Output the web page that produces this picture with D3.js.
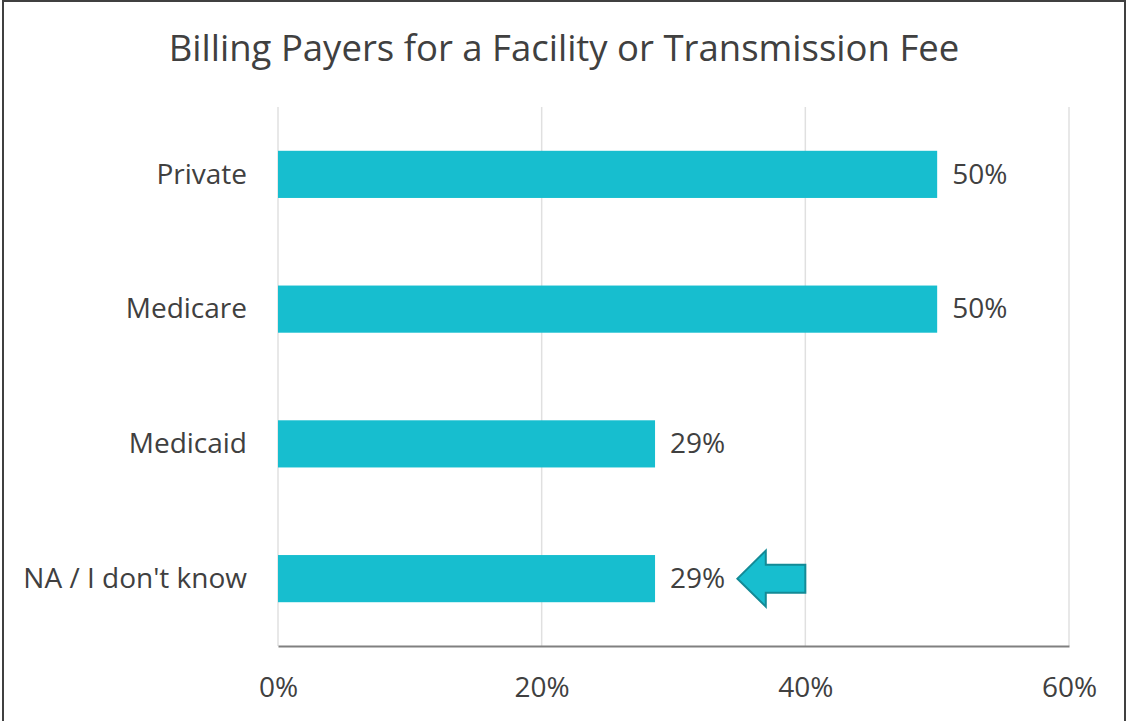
<!DOCTYPE html>
<html>
<head>
<meta charset="utf-8">
<script src="https://cdn.jsdelivr.net/npm/d3@7"></script>
<style>
  body { margin: 0; background: #fff; }
  text { font-family: "Open Sans", sans-serif; fill: #404040; }
</style>
</head>
<body>
<div id="chart"></div>
<script>
// data
var categories = ["Private", "Medicare", "Medicaid", "NA / I don't know"];
var values = [0.50, 0.50, 0.286, 0.286];
var ticks = [0, 0.2, 0.4, 0.6];
var title = "Billing Payers for a Facility or Transmission Fee";

var width = 1128, height = 721;
var margin = {top: 107, right: 59, bottom: 75, left: 278};

var svg = d3.select("#chart").append("svg")
    .attr("width", width)
    .attr("height", height);

// outer border
svg.append("rect")
  .attr("x", 3)
  .attr("y", 1)
  .attr("width", 1122)
  .attr("height", 730)
  .attr("fill", "none")
  .attr("stroke", "#404040")
  .attr("stroke-width", 2);

var x = d3.scaleLinear()
    .domain([0, 0.6])
    .range([margin.left, width - margin.right]);

var y = d3.scaleBand()
    .domain(categories)
    .range([margin.top, height - margin.bottom])
    .paddingInner(0.65)
    .paddingOuter(0.325);

// gridlines
svg.append("g")
  .selectAll("line")
  .data(ticks)
  .enter().append("line")
  .attr("x1", function(d) { return x(d); })
  .attr("x2", function(d) { return x(d); })
  .attr("y1", margin.top)
  .attr("y2", height - margin.bottom)
  .attr("stroke", "#e0e0e0")
  .attr("stroke-width", 1.5);

// bottom axis
var xAxis = svg.append("g")
  .attr("transform", "translate(0," + (height - margin.bottom) + ")")
  .call(d3.axisBottom(x).tickValues(ticks).tickSize(0).tickPadding(31).tickFormat(d3.format(".0%")));
xAxis.select(".domain").attr("stroke", "#808080").attr("stroke-width", 2);
xAxis.selectAll("text").style("font-size", "28px").style("font-family", "'Open Sans', sans-serif").attr("fill", "#404040");

// bars
svg.append("g")
  .selectAll("rect")
  .data(values)
  .enter().append("rect")
  .attr("x", x(0))
  .attr("y", function(d, i) { return y(categories[i]); })
  .attr("width", function(d) { return x(d) - x(0); })
  .attr("height", y.bandwidth())
  .attr("fill", "#17becf");

// value labels
svg.append("g")
  .selectAll("text")
  .data(values)
  .enter().append("text")
  .attr("x", function(d) { return x(d) + 15; })
  .attr("y", function(d, i) { return y(categories[i]) + y.bandwidth() / 2; })
  .attr("dy", "0.33em")
  .style("font-size", "28px")
  .text(function(d) { return Math.round(d * 100) + "%"; });

// category labels
svg.append("g")
  .selectAll("text")
  .data(categories)
  .enter().append("text")
  .attr("x", margin.left - 31)
  .attr("y", function(d) { return y(d) + y.bandwidth() / 2; })
  .attr("dy", "0.33em")
  .attr("text-anchor", "end")
  .style("font-size", "28px")
  .text(function(d) { return d; });

// title
svg.append("text")
  .attr("x", 564)
  .attr("y", 48)
  .attr("dy", "0.36em")
  .attr("text-anchor", "middle")
  .style("font-size", "36.5px")
  .text(title);

// arrow pointing at the last bar's label
var ay = y(categories[3]) + y.bandwidth() / 2;
var tipX = x(0.35) - 2, headX = x(0.37), tailX = x(0.40);
var arrow = [
  [tipX, ay],
  [headX, ay - 28],
  [headX, ay - 14],
  [tailX, ay - 14],
  [tailX, ay + 14],
  [headX, ay + 14],
  [headX, ay + 28]
];
svg.append("path")
  .attr("d", d3.line()(arrow) + "Z")
  .attr("fill", "#17becf")
  .attr("stroke", "#138a96")
  .attr("stroke-width", 2);
</script>
</body>
</html>
